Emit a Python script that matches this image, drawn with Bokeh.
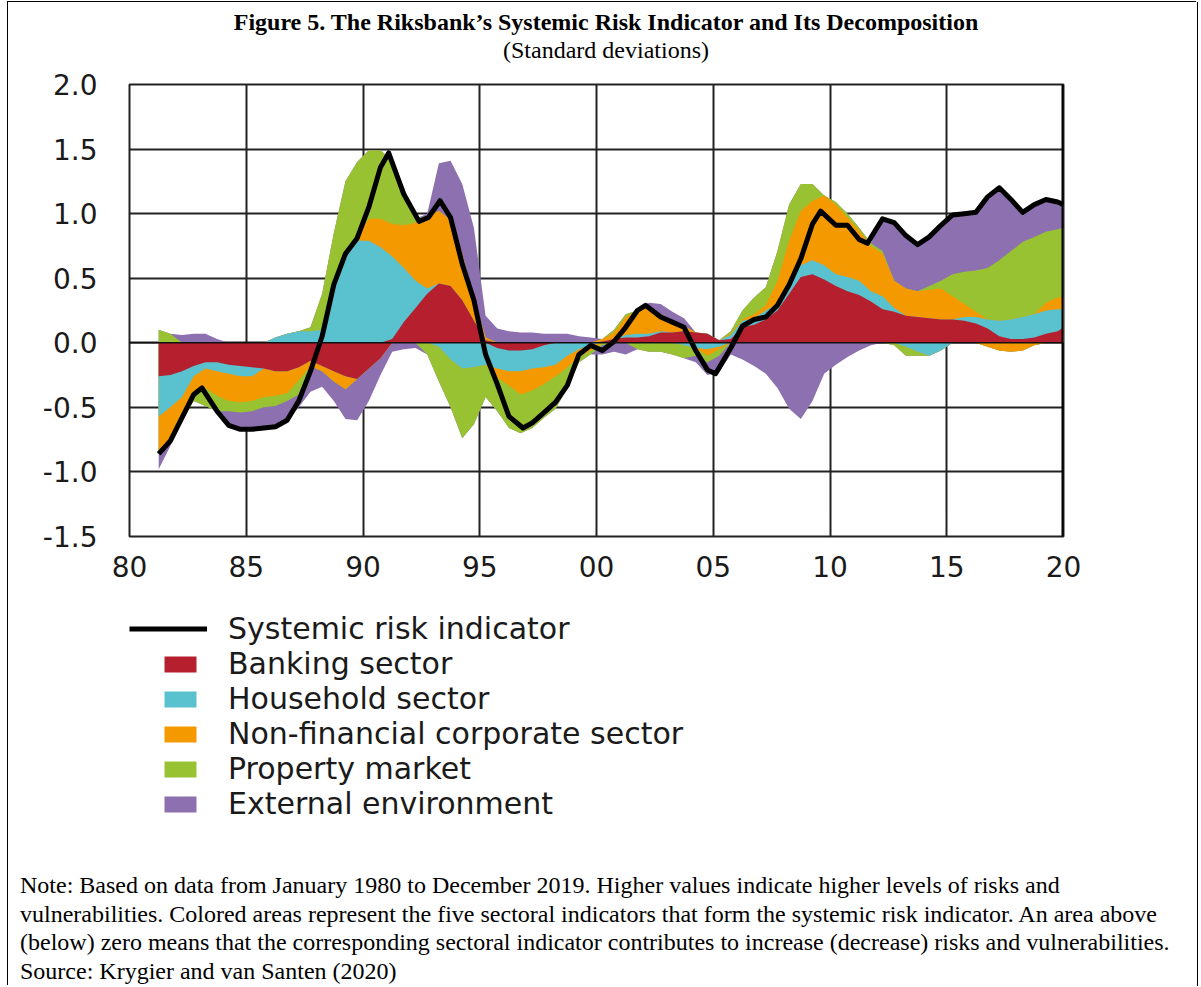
from bokeh.plotting import figure
from bokeh.layouts import column
from bokeh.models import (Range1d, FixedTicker, NumeralTickFormatter, Span, Legend, LegendItem, Div)
from bokeh.embed import file_html
from bokeh.resources import INLINE

# ---------------- data ----------------
years = [1981.25, 1981.75, 1982.25, 1982.75, 1983.25, 1983.75, 1984.25, 1984.75,
         1985.25, 1985.75, 1986.25, 1986.75, 1987.25, 1987.75, 1988.25, 1988.75,
         1989.25, 1989.75, 1990.25, 1990.75, 1991.25, 1991.75, 1992.25, 1992.75,
         1993.25, 1993.75, 1994.25, 1994.75, 1995.25, 1995.75, 1996.25, 1996.75,
         1997.25, 1997.75, 1998.25, 1998.75, 1999.25, 1999.75, 2000.25, 2000.75,
         2001.25, 2001.75, 2002.25, 2002.75, 2003.25, 2003.75, 2004.25, 2004.75,
         2005.25, 2005.75, 2006.25, 2006.75, 2007.25, 2007.75, 2008.25, 2008.75,
         2009.25, 2009.75, 2010.25, 2010.75, 2011.25, 2011.75, 2012.25, 2012.75,
         2013.25, 2013.75, 2014.25, 2014.75, 2015.25, 2015.75, 2016.25, 2016.75,
         2017.25, 2017.75, 2018.25, 2018.75, 2019.25, 2019.75, 2020.0]

banking = [-0.26, -0.25, -0.22, -0.18, -0.15, -0.15, -0.17, -0.18,
           -0.19, -0.20, -0.22, -0.22, -0.19, -0.14, -0.18, -0.22,
           -0.26, -0.28, -0.20, -0.12, 0.03, 0.16, 0.27, 0.38,
           0.46, 0.44, 0.33, 0.17, 0.02, -0.04, -0.06, -0.06,
           -0.05, -0.02, 0.00, 0.00, 0.00, 0.00, 0.01, 0.03,
           0.04, 0.04, 0.05, 0.08, 0.08, 0.09, 0.08, 0.07,
           0.02, 0.03, 0.12, 0.14, 0.18, 0.25, 0.38, 0.51,
           0.53, 0.49, 0.44, 0.40, 0.37, 0.32, 0.26, 0.24,
           0.21, 0.20, 0.19, 0.18, 0.18, 0.17, 0.15, 0.11,
           0.05, 0.03, 0.03, 0.04, 0.07, 0.09, 0.12]

household = [-0.31, -0.25, -0.20, -0.08, -0.05, -0.07, -0.07, -0.08,
             -0.07, 0.00, 0.04, 0.07, 0.09, 0.09, 0.10, 0.42,
             0.71, 0.79, 0.79, 0.74, 0.64, 0.42, 0.21, 0.04,
             -0.03, -0.13, -0.20, -0.19, -0.17, -0.16, -0.16, -0.16,
             -0.15, -0.17, -0.17, -0.10, -0.05, -0.02, 0.00, 0.00,
             0.02, 0.03, 0.02, 0.01, 0.00, -0.02, -0.04, -0.05,
             -0.03, 0.03, 0.05, 0.05, 0.07, 0.05, 0.07, 0.09,
             0.11, 0.11, 0.09, 0.11, 0.11, 0.08, 0.10, 0.03,
             -0.03, -0.07, -0.10, -0.06, 0.00, 0.03, 0.05, 0.07,
             0.12, 0.15, 0.17, 0.18, 0.18, 0.17, 0.14]

nonfin = [-0.27, -0.24, -0.17, -0.12, -0.15, -0.19, -0.21, -0.20,
          -0.19, -0.22, -0.19, -0.17, -0.10, -0.04, -0.04, -0.08,
          -0.10, 0.03, 0.17, 0.22, 0.25, 0.33, 0.45, 0.56,
          0.56, 0.51, 0.36, 0.18, 0.02, -0.07, -0.11, -0.18,
          -0.17, -0.13, -0.09, -0.09, -0.06, -0.04, 0.02, 0.05,
          0.14, 0.18, 0.20, 0.13, 0.09, 0.04, 0.00, -0.05,
          -0.02, 0.01, 0.01, 0.03, 0.04, 0.18, 0.34, 0.42,
          0.46, 0.54, 0.54, 0.46, 0.39, 0.35, 0.33, 0.21,
          0.21, 0.20, 0.22, 0.24, 0.18, 0.10, 0.04, -0.03,
          -0.06, -0.07, -0.06, -0.02, 0.06, 0.09, 0.09]

property_mkt = [0.10, 0.07, -0.01, -0.07, -0.14, -0.12, -0.08, -0.08,
                -0.08, -0.08, -0.08, -0.06, -0.11, 0.03, 0.28, 0.43,
                0.54, 0.58, 0.53, 0.53, 0.49, 0.29, 0.03, -0.09,
                -0.27, -0.37, -0.54, -0.44, -0.25, -0.26, -0.33, -0.30,
                -0.29, -0.26, -0.25, -0.16, -0.04, -0.03, -0.02, 0.02,
                0.02, -0.05, -0.07, -0.07, -0.09, -0.10, -0.06, -0.05,
                -0.05, 0.02, 0.07, 0.13, 0.14, 0.23, 0.28, 0.21,
                0.13, 0.00, 0.02, 0.03, 0.02, 0.02, 0.02, -0.02,
                -0.07, -0.03, 0.03, 0.06, 0.17, 0.25, 0.32, 0.40,
                0.47, 0.53, 0.58, 0.60, 0.55, 0.53, 0.54]

external = [-0.14, -0.06, 0.06, 0.07, 0.07, 0.03, -0.13, -0.14,
            -0.15, -0.17, -0.17, -0.15, -0.10, -0.20, -0.12, -0.15,
            -0.23, -0.32, -0.25, -0.13, -0.07, -0.05, -0.04, 0.02,
            0.37, 0.46, 0.54, 0.54, 0.17, 0.11, 0.09, 0.08,
            0.08, 0.07, 0.07, 0.07, 0.05, 0.04, -0.07, -0.07,
            -0.09, 0.00, 0.04, 0.08, 0.07, 0.06, -0.05, -0.10,
            -0.13, -0.09, -0.13, -0.18, -0.24, -0.35, -0.51, -0.59,
            -0.45, -0.24, -0.17, -0.11, -0.06, -0.02, 0.26, 0.44,
            0.41, 0.36, 0.38, 0.43, 0.47, 0.45, 0.46, 0.56,
            0.58, 0.40, 0.24, 0.25, 0.25, 0.21, 0.18]

line_years = [1981.25, 1981.75, 1982.25, 1982.75, 1983.1, 1983.75, 1984.25, 1984.75,
              1985.25, 1985.75, 1986.25, 1986.75, 1987.25, 1987.75, 1988.25, 1988.75,
              1989.25, 1989.75, 1990.25, 1990.75, 1991.1, 1991.75, 1992.4, 1992.8,
              1993.3, 1993.75, 1994.25, 1994.75, 1995.25, 1995.75, 1996.25, 1996.85,
              1997.25, 1997.75, 1998.25, 1998.75, 1999.25, 1999.75, 2000.25, 2000.75,
              2001.25, 2001.75, 2002.1, 2002.75, 2003.25, 2003.75, 2004.25, 2004.75,
              2005.1, 2005.75, 2006.25, 2006.75, 2007.25, 2007.75, 2008.25, 2008.75,
              2009.25, 2009.6, 2010.25, 2010.75, 2011.25, 2011.6, 2012.25, 2012.75,
              2013.25, 2013.75, 2014.25, 2014.75, 2015.25, 2015.75, 2016.25, 2016.75,
              2017.25, 2017.75, 2018.25, 2018.75, 2019.25, 2019.75, 2020.0]

systemic_risk = [-0.86, -0.76, -0.58, -0.40, -0.35, -0.53, -0.64, -0.67,
                 -0.67, -0.66, -0.65, -0.60, -0.45, -0.22, 0.05, 0.45,
                 0.69, 0.81, 1.05, 1.36, 1.47, 1.15, 0.94, 0.97,
                 1.10, 0.97, 0.61, 0.33, -0.09, -0.32, -0.57, -0.66,
                 -0.62, -0.54, -0.46, -0.33, -0.09, -0.02, -0.06, 0.01,
                 0.12, 0.25, 0.29, 0.20, 0.16, 0.12, -0.06, -0.21,
                 -0.24, -0.04, 0.13, 0.18, 0.20, 0.29, 0.45, 0.65,
                 0.92, 1.02, 0.91, 0.91, 0.80, 0.77, 0.96, 0.93,
                 0.83, 0.76, 0.82, 0.91, 0.99, 1.00, 1.01, 1.13,
                 1.20, 1.11, 1.01, 1.07, 1.11, 1.09, 1.07]

x_ticks = [1980, 1985, 1990, 1995, 2000, 2005, 2010, 2015, 2020]
x_tick_labels = ["80", "85", "90", "95", "00", "05", "10", "15", "20"]
y_ticks = [-1.5, -1.0, -0.5, 0.0, 0.5, 1.0, 1.5, 2.0]

sector_names = ["Banking sector", "Household sector", "Non-financial corporate sector",
                "Property market", "External environment"]
sector_colors = ["#B51F2E", "#5AC1CF", "#F49A00", "#99C232", "#8D70B0"]
indicator_name = "Systemic risk indicator"

title_text = "Figure 5. The Riksbank\u2019s Systemic Risk Indicator and Its Decomposition"
subtitle_text = "(Standard deviations)"
note_lines = [
    "Note: Based on data from January 1980 to December 2019. Higher values indicate higher levels of risks and",
    "vulnerabilities. Colored areas represent the five sectoral indicators that form the systemic risk indicator. An area above",
    "(below) zero means that the corresponding sectoral indicator contributes to increase (decrease) risks and vulnerabilities.",
    "Source: Krygier and van Santen (2020)",
]

# stacking of the sector contributions (positives above zero, negatives below)
n = len(years)
series = [banking, household, nonfin, property_mkt, external]
pos_tops, neg_bots = [], []
pb = [0.0] * n
nb = [0.0] * n
for vals in series:
    pb = [b + max(v, 0.0) for b, v in zip(pb, vals)]
    nb = [b + min(v, 0.0) for b, v in zip(nb, vals)]
    pos_tops.append(pb)
    neg_bots.append(nb)
zeros = [0.0] * n

W = 1189

# ---------------- title block ----------------
title_html = ('<div style="display: block; box-sizing: border-box; width: 1189px; '
              'font-family: \'Liberation Serif\', serif; font-size: 24px; color: #000; '
              'text-align: center; white-space: nowrap; padding-top: 6px; padding-left: 7px; '
              'line-height: 28px;">'
              '<span style="font-weight: bold;">' + title_text + '</span><br>'
              '<span>' + subtitle_text + '</span></div>')
title_div = Div(text=title_html, width=W, height=66, margin=(0, 0, 0, 0))

# ---------------- main chart ----------------
H1 = 532
p = figure(width=W, height=H1, x_range=Range1d(1980, 2020), y_range=Range1d(-1.5, 2.0),
           output_backend="svg", toolbar_location=None, title=None,
           min_border_left=121, min_border_right=134, min_border_top=16, min_border_bottom=64)

p.outline_line_color = "#222222"
p.outline_line_width = 2
p.background_fill_color = "white"
p.border_fill_color = "white"

for g in (p.xgrid, p.ygrid):
    g.grid_line_color = "#222222"
    g.grid_line_width = 2
p.xgrid.ticker = FixedTicker(ticks=x_ticks)
p.ygrid.ticker = FixedTicker(ticks=y_ticks)

p.xaxis.ticker = FixedTicker(ticks=x_ticks)
p.xaxis.major_label_overrides = {int(t): s for t, s in zip(x_ticks, x_tick_labels)}
p.yaxis.ticker = FixedTicker(ticks=y_ticks)
p.yaxis.formatter = NumeralTickFormatter(format="0.0")
for ax in (p.xaxis, p.yaxis):
    ax.axis_line_color = None
    ax.major_tick_line_color = None
    ax.minor_tick_line_color = None
    ax.major_tick_out = 0
    ax.major_tick_in = 0
    ax.major_label_text_font = "DejaVu Sans"
    ax.major_label_text_font_size = "28px"
    ax.major_label_text_color = "#1a1a1a"
p.xaxis.major_label_standoff = 19
p.yaxis.major_label_standoff = 32

for i in reversed(range(5)):
    p.varea(x=years, y1=zeros, y2=pos_tops[i], fill_color=sector_colors[i], fill_alpha=1.0)
    p.varea(x=years, y1=neg_bots[i], y2=zeros, fill_color=sector_colors[i], fill_alpha=1.0)

p.add_layout(Span(location=0, dimension="width", line_color="#111111", line_width=1.5))
p.add_layout(Span(location=2020, dimension="height", line_color="black", line_width=4))

p.line(line_years, systemic_risk, line_color="black", line_width=5, line_join="round")

# ---------------- legend panel ----------------
# key renderers carry the same series but sit outside this panel's visible range
H2 = 271
q = figure(width=W, height=H2, x_range=Range1d(1980, 2020), y_range=Range1d(10.0, 11.0),
           output_backend="svg", toolbar_location=None, title=None,
           x_axis_type=None, y_axis_type=None,
           min_border_left=121, min_border_right=134, min_border_top=0, min_border_bottom=0)
q.grid.visible = False
q.outline_line_color = None
q.background_fill_color = "white"
q.border_fill_color = "white"

key_line = q.line(line_years, systemic_risk, line_color="black", line_width=5)
key_areas = [q.varea(x=years, y1=zeros, y2=pos_tops[i], fill_color=sector_colors[i], fill_alpha=1.0)
             for i in range(5)]

leg1 = Legend(items=[LegendItem(label=indicator_name, renderers=[key_line])],
              location=(0, 225), orientation="vertical",
              glyph_width=78, glyph_height=35, label_standoff=21, label_height=20,
              padding=0, margin=0, spacing=0,
              background_fill_alpha=0, border_line_alpha=0,
              label_text_font="DejaVu Sans", label_text_font_size="30px",
              label_text_color="#1a1a1a")
leg2 = Legend(items=[LegendItem(label=nm, renderers=[r]) for nm, r in zip(sector_names, key_areas)],
              location=(31, 50), orientation="vertical",
              glyph_width=40, glyph_height=20, label_standoff=28, label_height=20,
              padding=0, margin=0, spacing=0,
              background_fill_alpha=0, border_line_alpha=0,
              label_text_font="DejaVu Sans", label_text_font_size="30px",
              label_text_color="#1a1a1a")
q.add_layout(leg1, "center")
q.add_layout(leg2, "center")

# ---------------- note ----------------
note_html = ('<div style="font-family: \'Liberation Serif\', serif; font-size: 24px; '
             'line-height: 28.7px; white-space: nowrap; padding-left: 12px; color: #000;">'
             + "<br>".join(note_lines) + "</div>")
note = Div(text=note_html, width=W, height=115, margin=(0, 0, 0, 0))

layout = column(title_div, p, q, note, spacing=0)
layout.styles = {"margin-left": "8px", "margin-top": "2px",
                 "box-shadow": "-1px -1px 0 0 #000, 1px 0 0 0 #000"}

open("out.html", "w").write(file_html(layout, INLINE))
